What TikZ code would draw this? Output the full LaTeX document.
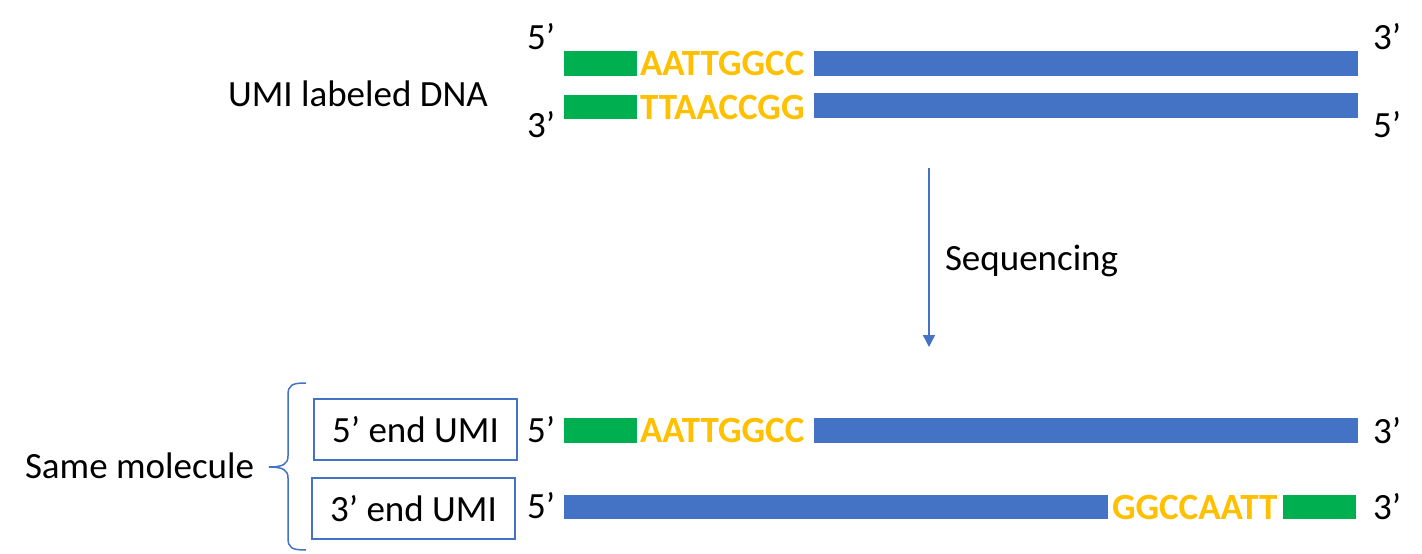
\documentclass[tikz,border=0pt]{standalone}
\usepackage{fontspec}
\setmainfont{Carlito}
\usetikzlibrary{arrows.meta}
\definecolor{umigreen}{HTML}{00B050}
\definecolor{dnablue}{HTML}{4472C4}
\definecolor{umiyellow}{HTML}{FFC000}
\tikzset{
  txt/.style={inner sep=0pt, outer sep=0pt, anchor=base west, font=\fontsize{37}{44}\selectfont},
  seqtxt/.style={txt, text=umiyellow, font=\fontsize{37}{44}\selectfont\bfseries},
  bar/.style={inner sep=0pt, outer sep=0pt, anchor=north west, draw=none},
  gbar/.style={bar, fill=umigreen},
  bbar/.style={bar, fill=dnablue},
  umibox/.style={draw=dnablue, line width=1.5pt, inner sep=0pt, minimum width=203pt, minimum height=61pt, font=\fontsize{37}{44}\selectfont},
}
\begin{document}
\begin{tikzpicture}[x=1pt,y=-1pt]
\useasboundingbox[fill=white] (0,0) rectangle (1422,554);

% top double strand
\node[txt] (l5a) at (527,49) {5’};
\node[txt] (l3a) at (527,137) {3’};
\node[txt] (r3a) at (1373,49) {3’};
\node[txt] (r5a) at (1373,137) {5’};
\node[txt] (umilab) at (228,106) {UMI labeled DNA};

\node[gbar, minimum width=73pt, minimum height=25pt] (g1) at (564,51) {};
\node[seqtxt] (s1) at (640,75) {AATTGGCC};
\node[bbar, minimum width=544pt, minimum height=25pt] (b1) at (814,51) {};

\node[gbar, minimum width=73pt, minimum height=24pt] (g2) at (564,95) {};
\node[seqtxt] (s2) at (640,119) {TTAACCGG};
\node[bbar, minimum width=544pt, minimum height=25pt] (b2) at (814,93) {};

% sequencing arrow
\coordinate (arrtop) at (929,168);
\coordinate (arrbot) at (929,347);
\draw[dnablue, line width=1.5pt, -{Triangle[width=12pt,length=12pt]}] (arrtop) -- (arrbot);
\node[txt] (seqlab) at (945,270) {Sequencing};

% bottom reads
\node[umibox] (box5) at (415.5,429.5) {5’ end UMI};
\node[umibox] (box3) at (413.5,508.5) {3’ end UMI};
\node[txt] (l5b) at (527,442) {5’};
\node[txt] (l5c) at (527,518) {5’};
\node[txt] (r3b) at (1373,443) {3’};
\node[txt] (r3c) at (1373,519) {3’};

\node[gbar, minimum width=73pt, minimum height=25pt] (g3) at (564,418) {};
\node[seqtxt] (s3) at (640,442) {AATTGGCC};
\node[bbar, minimum width=544pt, minimum height=25pt] (b3) at (814,418) {};

\node[bbar, minimum width=544pt, minimum height=24pt] (b4) at (564,495) {};
\node[seqtxt] (s4) at (1112,519) {GGCCAATT};
\node[gbar, minimum width=73pt, minimum height=24pt] (g4) at (1283,495) {};

% brace and label
\node[txt] (same) at (25,478) {Same molecule};
\draw[dnablue, line width=1.5pt]
  (306,383) .. controls (292,383) and (288,385) .. (288,395)
  -- (288,456) .. controls (288,464) and (283,467) .. (269,467)
  .. controls (283,467) and (288,470) .. (288,478)
  -- (288,538) .. controls (288,548) and (292,550) .. (306,550);
\end{tikzpicture}
\end{document}
